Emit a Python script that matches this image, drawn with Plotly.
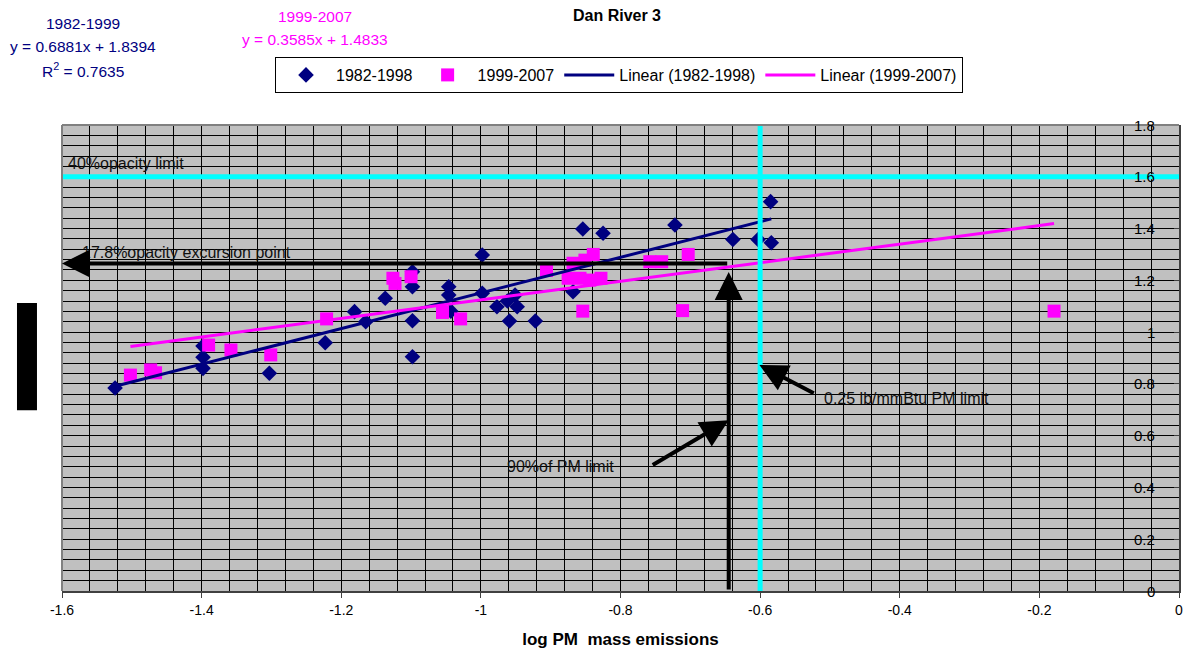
import plotly.graph_objects as go

# ---------------- data ----------------
x_8298 = [-1.524, -1.398, -1.398, -1.398, -1.303, -1.223, -1.181, -1.165, -1.137,
          -1.098, -1.098, -1.098, -1.098, -1.046, -1.046, -1.043, -0.998, -0.998,
          -0.977, -0.962, -0.951, -0.948, -0.959, -0.922, -0.868, -0.854, -0.825,
          -0.722, -0.639, -0.603, -0.584, -0.585]
y_8298 = [0.784, 0.946, 0.903, 0.860, 0.841, 0.959, 1.079, 1.040, 1.131,
          1.233, 1.175, 1.044, 0.905, 1.175, 1.143, 1.081, 1.298, 1.150,
          1.098, 1.120, 1.143, 1.098, 1.043, 1.043, 1.156, 1.398, 1.382,
          1.414, 1.358, 1.358, 1.345, 1.504]

x_9907 = [-1.502, -1.473, -1.466, -1.390, -1.358, -1.301, -1.221, -1.126, -1.123,
          -1.100, -1.055, -1.029, -0.906, -0.875, -0.868, -0.851, -0.839, -0.858,
          -0.844, -0.828, -0.854, -0.758, -0.741, -0.703, -0.711, -0.179]
y_9907 = [0.834, 0.854, 0.843, 0.950, 0.931, 0.912, 1.051, 1.208, 1.188,
          1.214, 1.076, 1.051, 1.238, 1.208, 1.266, 1.278, 1.300, 1.208,
          1.201, 1.208, 1.081, 1.272, 1.272, 1.300, 1.083, 1.081]

# trendline coefficients as shown on the chart
slope_8298, icpt_8298 = 0.6881, 1.8394
slope_9907, icpt_9907 = 0.3585, 1.4833

x_tick_vals = [-1.6, -1.4, -1.2, -1.0, -0.8, -0.6, -0.4, -0.2, 0.0]
x_tick_text = ["-1.6", "-1.4", "-1.2", "-1", "-0.8", "-0.6", "-0.4", "-0.2", "0"]
y_tick_vals = [0, 0.2, 0.4, 0.6, 0.8, 1.0, 1.2, 1.4, 1.6, 1.8]
y_tick_text = ["0", "0.2", "0.4", "0.6", "0.8", "1", "1.2", "1.4", "1.6", "1.8"]

# reference lines / markers
opacity_limit_y = 1.6
pm_limit_x = -0.6
pm90_x = -0.645
excursion_y = 1.265

NAVY = "#000080"
MAGENTA = "#FF00FF"
CYAN = "#00FFFF"
FONT = "Liberation Sans, Arial, sans-serif"

# page offset (browser body margin) compensation
OFF = 8
W, H = 1195 - OFF, 654 - OFF

fig = go.Figure()
fig.add_trace(go.Scatter(x=x_8298, y=y_8298, mode="markers", name="1982-1998",
                         marker=dict(symbol="diamond", size=12, color=NAVY)))
fig.add_trace(go.Scatter(x=x_9907, y=y_9907, mode="markers", name="1999-2007",
                         marker=dict(symbol="square", size=13, color=MAGENTA)))

xa = [min(x_8298), max(x_8298)]
fig.add_trace(go.Scatter(x=xa, y=[slope_8298 * v + icpt_8298 for v in xa], mode="lines",
                         name="Linear (1982-1998)", line=dict(color=NAVY, width=3)))
xb = [min(x_9907), max(x_9907)]
fig.add_trace(go.Scatter(x=xb, y=[slope_9907 * v + icpt_9907 for v in xb], mode="lines",
                         name="Linear (1999-2007)", line=dict(color=MAGENTA, width=3)))

shapes = [
    dict(type="line", xref="x", yref="y", x0=-1.6, x1=0, y0=opacity_limit_y, y1=opacity_limit_y,
         line=dict(color=CYAN, width=5), layer="above"),
    dict(type="line", xref="x", yref="y", x0=pm_limit_x, x1=pm_limit_x, y0=0, y1=1.8,
         line=dict(color=CYAN, width=5), layer="above"),
    # plot frame top / left (gray)
    dict(type="line", xref="paper", yref="paper", x0=0, x1=1, y0=1, y1=1,
         line=dict(color="#808080", width=2), layer="above"),
    dict(type="line", xref="paper", yref="paper", x0=0, x1=0, y0=0, y1=1,
         line=dict(color="#808080", width=2), layer="above"),
    # black bar at left (axis title block)
    dict(type="rect", xref="paper", yref="paper", x0=-0.0403, x1=-0.0224, y0=0.388, y1=0.618,
         fillcolor="black", line=dict(width=0)),
]

EQ = 15.5
annotations = [
    dict(text="1982-1999", x=83, y=23, font=dict(color=NAVY, size=EQ, family=FONT)),
    dict(text="y = 0.6881x + 1.8394", x=83, y=46, font=dict(color=NAVY, size=EQ, family=FONT)),
    dict(text="R<sup>2</sup> = 0.7635", x=83, y=70, font=dict(color=NAVY, size=EQ, family=FONT)),
    dict(text="1999-2007", x=315, y=17, font=dict(color=MAGENTA, size=EQ, family=FONT)),
    dict(text="y = 0.3585x + 1.4833", x=315, y=40, font=dict(color=MAGENTA, size=EQ, family=FONT)),
]
for a in annotations:
    a["x"] = (a["x"] - 62) / 1117
    a["y"] = (591 - a["y"]) / 466
    a.update(xref="paper", yref="paper", showarrow=False, xanchor="center", yanchor="middle")

txt = dict(size=16, family=FONT, color="#111111")
annotations += [
    dict(text="40%opacity limit", x=-1.594, y=1.652, xref="x", yref="y", showarrow=False,
         xanchor="left", yanchor="middle", font=txt),
    dict(text="17.8%opacity excursion point", x=-1.574, y=1.309, xref="x", yref="y",
         showarrow=False, xanchor="left", yanchor="middle", font=txt),
    dict(text="90%of PM limit", x=-0.965, y=0.479, xref="x", yref="y", showarrow=False,
         xanchor="left", yanchor="middle", font=txt),
    dict(text="0.25 lb/mmBtu PM limit", x=-0.511, y=0.745, xref="x", yref="y", showarrow=False,
         xanchor="left", yanchor="middle", font=txt),
]
arrow = dict(xref="x", yref="y", axref="x", ayref="y", text="", showarrow=True,
             arrowhead=2, arrowsize=1.4, arrowwidth=4, arrowcolor="black")
annotations += [
    dict(x=-1.6, y=excursion_y, ax=pm90_x, ay=excursion_y, **arrow),
    dict(x=pm90_x, y=1.232, ax=pm90_x, ay=0, **arrow),
    dict(x=pm90_x, y=0.660, ax=-0.756, ay=0.483, **arrow),
    dict(x=-0.601, y=0.873, ax=-0.521, ay=0.761, **arrow),
]
# y-axis tick labels drawn inside the plot, left of the right-hand axis
for v, t in zip(y_tick_vals, y_tick_text):
    annotations.append(dict(text=t, x=-0.04, y=v, xref="x", yref="y", showarrow=False,
                            xanchor="right", yanchor="middle", xshift=6,
                            font=dict(family=FONT, size=15, color="black")))

fig.update_layout(
    width=W, height=H,
    margin=dict(l=62 - OFF, r=16, t=125 - OFF, b=63, autoexpand=False),
    paper_bgcolor="white", plot_bgcolor="#C0C0C0",
    font=dict(family=FONT, size=13, color="black"),
    title=dict(text="<b>Dan River 3</b>", x=(617 - 62) / 1117, xref="paper", xanchor="center",
               y=1 - (15 - OFF) / H, yref="container", yanchor="middle",
               font=dict(size=16, family=FONT, color="black")),
    showlegend=True,
    legend=dict(orientation="h", x=(275 - 62) / 1117, y=(591 - 57) / 466, xanchor="left", yanchor="top",
                bgcolor="white", bordercolor="black", borderwidth=1,
                font=dict(size=16, family=FONT, color="black"), itemwidth=50,
                tracegroupgap=0),
    shapes=shapes, annotations=annotations,
    xaxis=dict(range=[-1.6, 0], tickvals=x_tick_vals, ticktext=x_tick_text,
               showgrid=True, gridcolor="black", gridwidth=1, zeroline=False,
               minor=dict(dtick=0.04, showgrid=True, gridcolor="black", gridwidth=1),
               showline=True, linecolor="#404040", linewidth=2,
               ticks="outside", ticklen=5, tickcolor="#404040", ticklabeloverflow="allow",
               tickfont=dict(family=FONT, size=14, color="black"),
               title=dict(text="<b>log PM  mass emissions</b>", standoff=16,
                          font=dict(family=FONT, size=17, color="black"))),
    yaxis=dict(range=[0, 1.8], tickvals=y_tick_vals, showticklabels=False, side="right",
               showgrid=True, gridcolor="black", gridwidth=1, zeroline=False,
               minor=dict(dtick=0.04, showgrid=True, gridcolor="black", gridwidth=1),
               showline=True, linecolor="#404040", linewidth=2,
               ticks="inside", ticklen=5, tickcolor="#404040"),
)

fig.write_html("out.html", config={"displayModeBar": False})
